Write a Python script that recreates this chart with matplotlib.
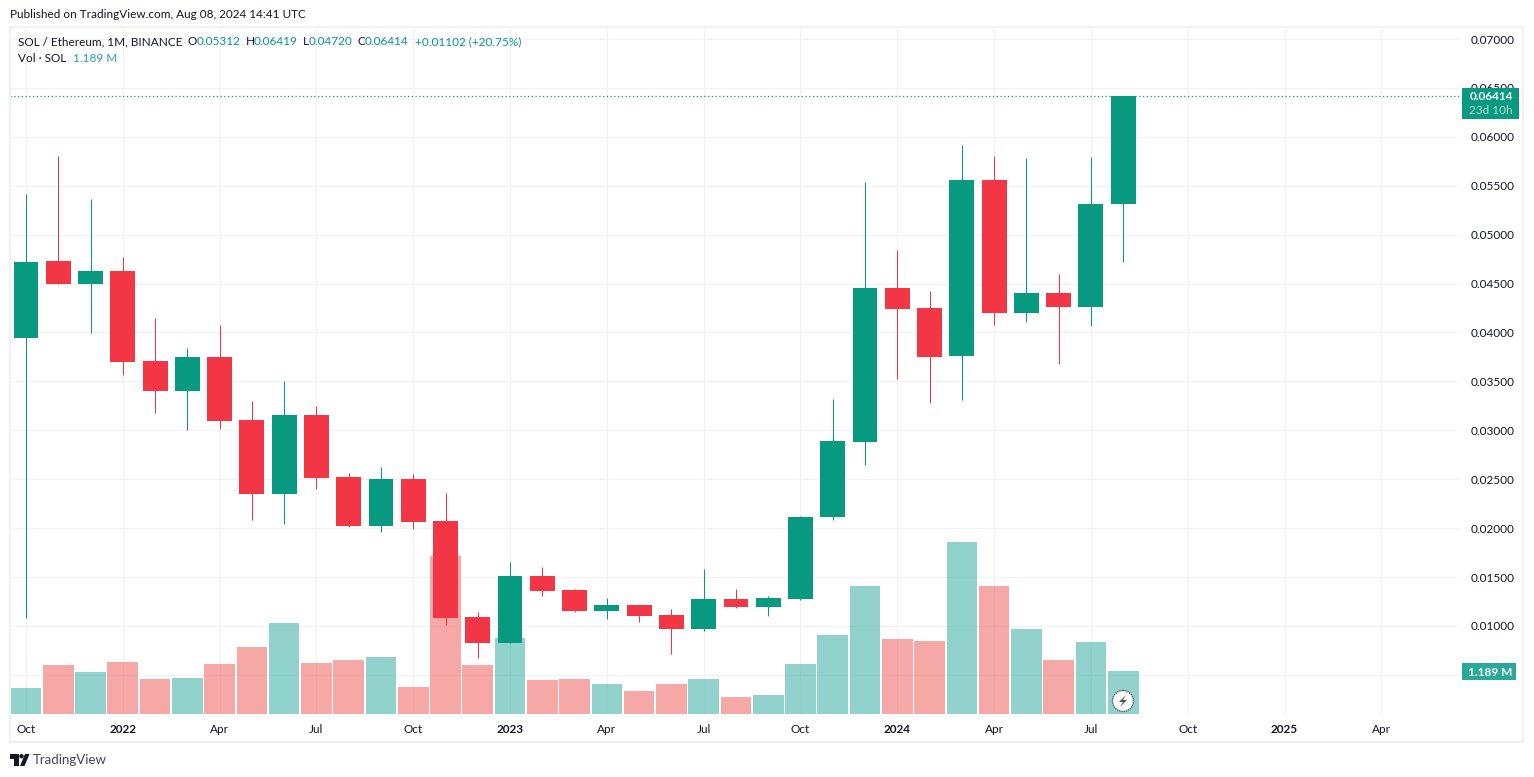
"""SOL / Ethereum monthly candles with volume"""
import matplotlib
matplotlib.use('Agg')
from matplotlib import pyplot as plt
from matplotlib.patches import Circle, Polygon, Rectangle

plt.rcParams['font.family'] = ['Lato', 'DejaVu Sans']

# monthly candles, Oct 2021 to Aug 2024
opens = [.03944, .04730, .04500, .04630, .03710, .03400, .03750, .03105, .02350, .03157, .02523, .02020,
         .02502, .02073, .01091, .00826, .01510, .01367, .01153, .01214, .01112, .00969, .01275, .01194,
         .01275, .02114, .02880, .04455, .04250, .03760, .05559, .04199, .04404, .04260, .05312]
highs = [.05416, .05804, .05365, .04772, .04148, .03841, .04076, .03300, .03504, .03248, .02563, .02625,
         .02553, .02359, .01143, .01654, .01603, .01378, .01286, .01214, .01173, .01582, .01378, .01306,
         .02125, .03320, .05538, .04843, .04424, .05916, .05804, .05784, .04598, .05794, .06419]
lows = [.01081, .04500, .03995, .03565, .03177, .03003, .03013, .02083, .02042, .02400, .02012, .01960,
        .01991, .01010, .00672, .00826, .01306, .01143, .01071, .01040, .00713, .00949, .01184, .01100,
        .01265, .02083, .02645, .03524, .03279, .03310, .04076, .04107, .03678, .04066, .04720]
closes = [.04720, .04500, .04628, .03700, .03400, .03750, .03095, .02350, .03157, .02513, .02022, .02502,
          .02063, .01081, .00826, .01510, .01357, .01153, .01214, .01100, .00969, .01275, .01194, .01286,
          .02114, .02891, .04455, .04240, .03750, .05559, .04199, .04404, .04260, .05313, .06414]
# volume in millions of SOL
volumes = [.719, 1.355, 1.161, 1.438, .968, .995, 1.383, 1.853, 2.516, 1.410, 1.493, 1.576,
           .747, 4.369, 1.355, 2.101, .940, .968, .830, .636, .830, .968, .470, .525,
           1.383, 2.184, 3.539, 2.074, 2.018, 4.756, 3.539, 2.350, 1.493, 1.991, 1.189]

price_ticks = [.005, .01, .015, .02, .025, .03, .035, .04, .045, .05, .055, .06, .065, .07]
price_labels = ['', '0.01000', '0.01500', '0.02000', '0.02500', '0.03000', '0.03500', '0.04000',
                '0.04500', '0.05000', '0.05500', '0.06000', '0.06500', '0.07000']
time_ticks = [0, 3, 6, 9, 12, 15, 18, 21, 24, 27, 30, 33, 36, 39, 42]
time_labels = ['Oct', '2022', 'Apr', 'Jul', 'Oct', '2023', 'Apr', 'Jul', 'Oct', '2024', 'Apr', 'Jul',
               'Oct', '2025', 'Apr']
last_close = closes[-1]

GREEN = '#089981'
RED = '#F23645'
TEXT = '#131722'
GRID = '#F2F2F3'
W, H = 1534, 777
# plot area in pixels
LEFT, RIGHT, TOP, BOTTOM = 10, 1460, 26, 714
SIZE = 8.45

fig = plt.figure(figsize=(W / 100, H / 100), dpi=100, facecolor='white')
rect = [LEFT / W, 1 - BOTTOM / H, (RIGHT - LEFT) / W, (BOTTOM - TOP) / H]

# three layers: grid and ticks, volume, candles
ax = fig.add_axes(rect, zorder=1)
ax_vol = fig.add_axes(rect, zorder=2, sharex=ax)
ax_candle = fig.add_axes(rect, zorder=3, sharex=ax, sharey=ax)

months = list(range(len(closes)))
up = [c >= o for o, c in zip(opens, closes)]

ax_vol.bar(months, volumes, width=0.95, color=['#26A69A' if u else '#EF5350' for u in up],
           alpha=0.5, linewidth=0)
ax_vol.set_ylim(0, 19.02)

colors = [GREEN if u else RED for u in up]
ax_candle.vlines(months, lows, highs, colors=colors, linewidth=0.75, zorder=3)
ax_candle.bar(months, [c - o for o, c in zip(opens, closes)], bottom=opens, width=0.77, color=colors,
              linewidth=0, zorder=4)
ax_candle.axhline(last_close, color=GREEN, linewidth=0.9, linestyle=(0, (1, 2)), zorder=2)

for layer in (ax_vol, ax_candle):
    layer.patch.set_alpha(0)
    layer.axis('off')

ax.set_xlim((LEFT - 26) / 32.27, (RIGHT - 26) / 32.27)
ax.set_ylim(.00100, .07133)
ax.yaxis.tick_right()
ax.set_yticks(price_ticks, price_labels, fontsize=SIZE, color=TEXT)
ax.set_xticks(time_ticks, time_labels, fontsize=SIZE, color=TEXT)
for tick_label in ax.get_xticklabels():
    if tick_label.get_text().startswith('20'):
        tick_label.set_fontweight('bold')
ax.tick_params(length=0)
ax.tick_params(axis='y', pad=7.5)
ax.tick_params(axis='x', pad=7)
ax.grid(True, color=GRID, linewidth=0.75)
ax.set_axisbelow(True)
for spine in ax.spines.values():
    spine.set_visible(False)

# page furniture, placed in pixels
page = fig.add_axes([0, 0, 1, 1], zorder=5)
page.set_xlim(0, W)
page.set_ylim(H, 0)
page.axis('off')
page.patch.set_alpha(0)

page.add_patch(Rectangle((9.5, 26.5), 1513.5, 715.5, fill=False, edgecolor='#F1F1F2', linewidth=1.6))


def label(x, y, text, color=TEXT, **kw):
    kw.setdefault('fontsize', SIZE)
    page.text(x, y, text, color=color, va='center', ha=kw.pop('ha', 'left'), **kw)


label(10, 15, 'Published on TradingView.com, Aug 08, 2024 14:41 UTC')
label(18, 41.5, 'SOL / Ethereum, 1M, BINANCE')
for x, head, x2, val in [(188, 'O', 197, '0.05312'), (246, 'H', 254, '0.06419'),
                         (303, 'L', 309, '0.04720'), (358, 'C', 365, '0.06414')]:
    label(x, 41.5, head)
    label(x2, 41.5, val, GREEN)
label(415, 41.5, '+0.01102 (+20.75%)', GREEN)
label(18, 58.5, 'Vol · SOL')
label(73, 58.5, '1.189 M', '#26A69A')

# last price and last volume tags
page.add_patch(Rectangle((1462, 88), 57, 31, color=GREEN, linewidth=0))
label(1513, 97, '0.06414', 'white', ha='right', fontweight='bold')
label(1513, 110.5, '23d 10h', '#B5E3D9', ha='right')
page.add_patch(Rectangle((1462, 663), 54, 17, color='#2AA99B', linewidth=0))
label(1512, 672, '1.189 M', 'white', ha='right', fontweight='bold')

# lightning badge on the last volume bar
page.add_patch(Circle((1123, 701), 10.5, facecolor='white', edgecolor='#50535E', linewidth=1,
                      linestyle=(0, (1, 0.6))))
page.add_patch(Polygon([(1126, 695), (1119, 702), (1123, 702), (1120, 707), (1127, 700), (1123, 700)],
                       closed=True, color='#50535E', linewidth=0))

# TradingView mark and name
page.add_patch(Polygon([(10, 754), (19, 754), (19, 766), (14, 766), (14, 758.5), (10, 758.5)],
                       closed=True, color='#131722', linewidth=0))
page.add_patch(Circle((21.5, 756.2), 2.2, color='#131722', linewidth=0))
page.add_patch(Polygon([(25, 754), (29.5, 754), (24.5, 766), (20, 766)], closed=True, color='#131722',
                       linewidth=0))
label(33, 760, 'TradingView', '#434651', fontsize=9.5)

fig.savefig('out.png', dpi=100, facecolor='white')
